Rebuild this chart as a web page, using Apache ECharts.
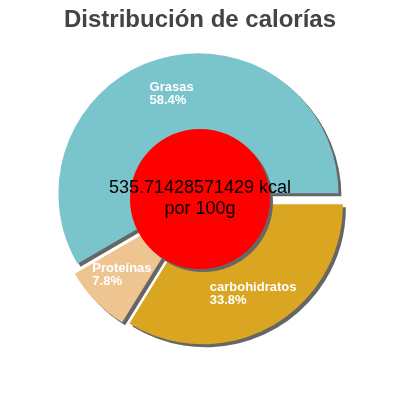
<!DOCTYPE html>
<html>
<head>
<meta charset="utf-8">
<script src="https://cdn.jsdelivr.net/npm/echarts@6/dist/echarts.min.js"></script>
<style>
html,body{margin:0;padding:0;background:#fff;}
#c{width:400px;height:400px;}
</style>
</head>
<body>
<div id="c"></div>
<script>
var titleText = "Distribución de calorías";
var categories = ["Grasas", "Proteínas", "carbohidratos"];
var values = [58.4, 7.8, 33.8];
var colors = ["#7AC4CC", "#EEC591", "#DAA520"];
var centerText = "535.71428571429 kcal\npor 100g";

var chart = echarts.init(document.getElementById('c'), null, {renderer: 'canvas'});
var pieData = categories.map(function (name, i) {
  return { name: name, value: values[i], selected: true, itemStyle: { color: colors[i] } };
});
var FF = 'Liberation Sans, Arial, sans-serif';
chart.setOption({
  animation: false,
  backgroundColor: '#fff',
  title: {
    text: titleText,
    left: 'center',
    top: 3,
    textStyle: { fontFamily: FF, fontSize: 24, fontWeight: 'bold', color: '#444' }
  },
  series: [
    {
      type: 'pie',
      center: [200, 199],
      radius: [60, 140],
      startAngle: 0,
      clockwise: false,
      selectedMode: 'multiple',
      selectedOffset: 6,
      avoidLabelOverlap: false,
      emphasis: { disabled: true },
      itemStyle: { shadowColor: '#666', shadowOffsetX: 3, shadowOffsetY: 3, shadowBlur: 0 },
      label: {
        show: true,
        position: 'inside',
        formatter: '{a|{b}}\n{a|{d}%}',
        color: '#fff',
        fontFamily: FF,
        fontSize: 13,
        fontWeight: 'bold',
        lineHeight: 13,
        rich: { a: { align: 'left', color: '#fff', fontSize: 13, fontWeight: 'bold', lineHeight: 13, fontFamily: FF } }
      },
      labelLine: { show: false },
      data: pieData
    },
    {
      type: 'pie',
      center: [200, 199],
      radius: [0, 70],
      silent: true,
      emphasis: { disabled: true },
      itemStyle: { color: '#FF0000', shadowColor: '#666', shadowOffsetX: 3, shadowOffsetY: 3, shadowBlur: 0 },
      label: {
        show: true,
        position: 'center',
        formatter: centerText,
        color: '#000',
        fontFamily: FF,
        fontSize: 18,
        lineHeight: 21
      },
      labelLine: { show: false },
      data: [{ name: 'kcal', value: 1 }]
    }
  ]
});
</script>
</body>
</html>
